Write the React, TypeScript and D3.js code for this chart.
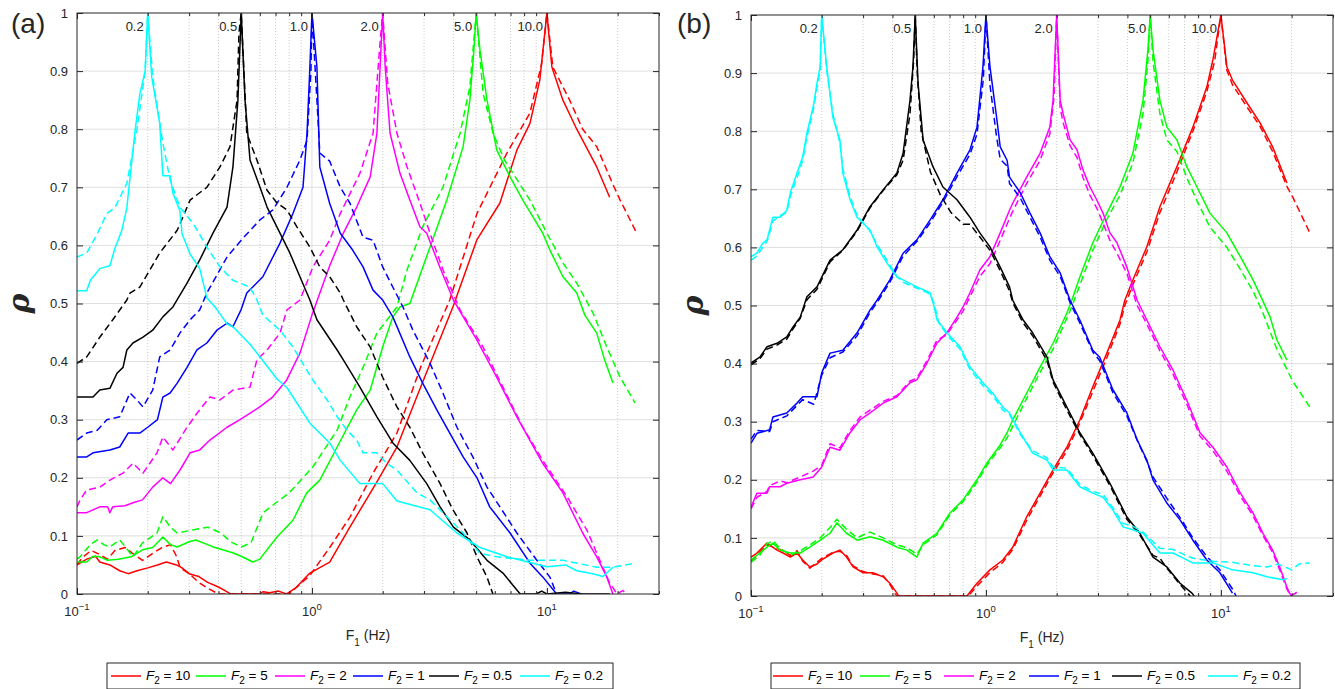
import React, { useEffect, useRef } from "react";
import * as d3 from "d3";

// ---- data: [F1 (Hz), rho] ----
const f2Labels = ["10", "5", "2", "1", "0.5", "0.2"];
const f2Colors = ["#ff0000", "#00ff00", "#ff00ff", "#0000ff", "#000000", "#00ffff"];
const peakFreqs = [0.2, 0.5, 1, 2, 5, 10];
const peakLabels = ["0.2", "0.5", "1.0", "2.0", "5.0", "10.0"];
const yTicks = [0, 0.1, 0.2, 0.3, 0.4, 0.5, 0.6, 0.7, 0.8, 0.9, 1];
const xMajor = [0.1, 1, 10];
const xMajorExp = ["\u22121", "0", "1"];

// panel (a)
const aRed = [[0.1,0.05],[0.11,0.06],[0.12,0.065],[0.125,0.055],[0.138,0.05],[0.152,0.04],[0.165,0.035],[0.18,0.04],[0.2,0.045],[0.22,0.05],[0.24,0.055],[0.265,0.05],[0.28,0.045],[0.3,0.035],[0.33,0.03],[0.36,0.02],[0.4,0.012],[0.43,0.005],[0.45,0],[0.6,0],[0.62,0.004],[0.66,0.002],[0.72,0.005],[0.78,0],[0.85,0.01],[0.98,0.036],[1.19,0.055],[1.45,0.115],[1.89,0.193],[2.3,0.253],[2.9,0.356],[3.98,0.494],[5.04,0.61],[6.31,0.673],[7.45,0.764],[8.47,0.81],[9.33,0.885],[10,1.0],[10.5,0.907],[11.7,0.85],[13.4,0.8],[16.3,0.735],[18.5,0.683]];
const aRedD = [[0.1,0.05],[0.105,0.062],[0.115,0.075],[0.125,0.068],[0.135,0.06],[0.145,0.075],[0.16,0.08],[0.175,0.068],[0.19,0.058],[0.21,0.07],[0.23,0.08],[0.25,0.085],[0.265,0.065],[0.275,0.045],[0.3,0.035],[0.33,0.02],[0.36,0.01],[0.4,0],[0.8,0],[0.83,0.006],[0.98,0.032],[1.19,0.08],[1.45,0.132],[1.82,0.208],[2.3,0.277],[2.9,0.39],[3.86,0.506],[5.04,0.655],[6.76,0.759],[8.47,0.828],[9.5,0.913],[10,1.0],[10.6,0.907],[12.5,0.85],[14.2,0.8],[16.3,0.77],[19,0.707],[20.5,0.678],[24.2,0.62]];
const aGreen = [[0.1,0.055],[0.11,0.055],[0.117,0.065],[0.125,0.064],[0.135,0.058],[0.15,0.06],[0.17,0.064],[0.19,0.076],[0.21,0.08],[0.232,0.098],[0.25,0.085],[0.267,0.081],[0.3,0.09],[0.32,0.093],[0.36,0.085],[0.38,0.081],[0.46,0.071],[0.5,0.065],[0.56,0.055],[0.6,0.06],[0.71,0.098],[0.83,0.127],[0.95,0.174],[1.08,0.196],[1.28,0.253],[1.55,0.317],[1.77,0.351],[2.0,0.425],[2.21,0.477],[2.37,0.494],[2.61,0.5],[3.18,0.597],[3.75,0.678],[4.4,0.77],[4.7,0.85],[4.89,0.936],[5,1.0],[5.19,0.936],[5.56,0.85],[6.12,0.764],[6.97,0.718],[7.9,0.678],[9.6,0.621],[10.3,0.592],[11.7,0.546],[13.4,0.518],[14.5,0.48],[16.3,0.449],[17.6,0.403],[19.1,0.363]];
const aGreenD = [[0.1,0.06],[0.103,0.064],[0.114,0.085],[0.122,0.093],[0.13,0.085],[0.138,0.081],[0.152,0.093],[0.165,0.075],[0.173,0.064],[0.19,0.088],[0.219,0.105],[0.232,0.133],[0.25,0.115],[0.267,0.105],[0.31,0.11],[0.36,0.115],[0.41,0.105],[0.45,0.09],[0.5,0.081],[0.55,0.088],[0.62,0.14],[0.73,0.162],[0.8,0.174],[1.01,0.219],[1.28,0.282],[1.45,0.339],[1.65,0.39],[1.89,0.449],[2.3,0.494],[2.54,0.558],[2.96,0.632],[3.61,0.7],[4.27,0.793],[4.7,0.873],[5,1.0],[5.35,0.862],[5.9,0.793],[6.6,0.747],[8.47,0.678],[10,0.621],[11.7,0.57],[13.4,0.535],[15.7,0.484],[18,0.425],[20.5,0.373],[23.7,0.329]];
const aMagenta = [[0.1,0.14],[0.11,0.14],[0.125,0.15],[0.135,0.15],[0.138,0.14],[0.142,0.15],[0.16,0.152],[0.173,0.157],[0.19,0.162],[0.21,0.184],[0.232,0.2],[0.25,0.19],[0.274,0.213],[0.303,0.243],[0.333,0.248],[0.368,0.265],[0.435,0.287],[0.494,0.3],[0.6,0.322],[0.68,0.339],[0.78,0.368],[0.89,0.415],[1.0,0.48],[1.19,0.565],[1.36,0.621],[1.55,0.666],[1.77,0.718],[1.89,0.793],[1.95,0.907],[2,1.0],[2.05,0.907],[2.15,0.793],[2.37,0.724],[2.61,0.678],[2.88,0.632],[3.08,0.621],[3.5,0.563],[4.0,0.506],[5.04,0.437],[6.12,0.373],[7.45,0.305],[9.6,0.225],[11.7,0.174],[14.2,0.105],[16.3,0.064],[18,0.029],[19.1,0]];
const aMagentaD = [[0.1,0.15],[0.103,0.162],[0.11,0.179],[0.125,0.184],[0.138,0.196],[0.157,0.208],[0.173,0.225],[0.191,0.208],[0.219,0.243],[0.232,0.27],[0.256,0.248],[0.294,0.287],[0.324,0.311],[0.368,0.339],[0.406,0.334],[0.461,0.351],[0.545,0.356],[0.583,0.403],[0.644,0.42],[0.731,0.449],[0.783,0.489],[0.889,0.506],[1.01,0.563],[1.19,0.609],[1.32,0.655],[1.6,0.724],[1.82,0.793],[1.95,0.95],[2,1.0],[2.1,0.88],[2.3,0.793],[2.54,0.735],[2.88,0.673],[3.18,0.621],[3.61,0.558],[4.27,0.489],[5.35,0.425],[6.5,0.356],[7.9,0.287],[9.6,0.23],[12.2,0.167],[14.8,0.11],[17.3,0.046],[18.5,0.019],[19.9,0],[21,0.006],[22,0]];
const aBlue = [[0.1,0.236],[0.11,0.236],[0.117,0.243],[0.138,0.248],[0.152,0.253],[0.165,0.277],[0.185,0.277],[0.2,0.287],[0.22,0.3],[0.232,0.339],[0.249,0.346],[0.267,0.363],[0.294,0.39],[0.324,0.42],[0.357,0.432],[0.394,0.454],[0.435,0.466],[0.461,0.46],[0.5,0.49],[0.528,0.518],[0.618,0.546],[0.731,0.604],[0.83,0.655],[0.916,0.7],[0.953,0.793],[0.98,0.907],[1,1],[1.05,0.907],[1.08,0.735],[1.19,0.672],[1.32,0.621],[1.49,0.592],[1.65,0.563],[1.82,0.523],[2,0.506],[2.21,0.477],[2.61,0.408],[2.96,0.363],[3.4,0.317],[3.86,0.277],[4.4,0.236],[5.04,0.2],[5.71,0.15],[6.97,0.105],[8.47,0.053],[9.62,0.029],[11,0],[12.5,0],[13,0.005],[14,0]];
const aBlueD = [[0.1,0.265],[0.11,0.277],[0.122,0.282],[0.134,0.3],[0.152,0.305],[0.168,0.346],[0.18,0.334],[0.191,0.322],[0.21,0.351],[0.225,0.408],[0.249,0.42],[0.274,0.449],[0.303,0.472],[0.333,0.489],[0.357,0.518],[0.435,0.58],[0.5,0.609],[0.601,0.644],[0.682,0.661],[0.783,0.7],[0.889,0.747],[0.953,0.781],[0.99,0.9],[1,1],[1.05,0.85],[1.08,0.759],[1.19,0.745],[1.32,0.7],[1.45,0.673],[1.65,0.614],[1.82,0.609],[2,0.563],[2.21,0.528],[2.44,0.494],[2.69,0.454],[3.18,0.397],[3.61,0.346],[4.14,0.287],[4.84,0.236],[5.56,0.184],[6.31,0.15],[7.45,0.105],[9.06,0.058],[10.3,0.029],[11,0]];
const aBlack = [[0.1,0.339],[0.117,0.339],[0.125,0.351],[0.138,0.354],[0.148,0.38],[0.157,0.39],[0.163,0.42],[0.173,0.432],[0.191,0.442],[0.21,0.454],[0.232,0.477],[0.256,0.494],[0.294,0.535],[0.333,0.575],[0.379,0.621],[0.435,0.666],[0.461,0.735],[0.484,0.85],[0.5,1.0],[0.519,0.85],[0.545,0.747],[0.601,0.7],[0.644,0.666],[0.731,0.621],[0.805,0.587],[0.889,0.546],[0.98,0.506],[1.05,0.472],[1.28,0.42],[1.36,0.403],[1.6,0.356],[1.89,0.305],[2.21,0.26],[2.61,0.23],[3.08,0.19],[3.51,0.15],[4.0,0.115],[4.7,0.093],[5.56,0.058],[6.5,0.036],[7.45,0.007],[7.7,0],[9,0],[9.5,0.005],[10,0],[12,0.003],[14,0],[18.5,0]];
const aBlackD = [[0.1,0.397],[0.11,0.408],[0.125,0.442],[0.142,0.472],[0.163,0.506],[0.168,0.518],[0.185,0.528],[0.225,0.587],[0.267,0.626],[0.303,0.678],[0.357,0.7],[0.406,0.735],[0.448,0.77],[0.48,0.85],[0.489,0.966],[0.5,1.0],[0.528,0.793],[0.583,0.747],[0.644,0.695],[0.71,0.673],[0.783,0.661],[0.863,0.632],[0.98,0.597],[1.08,0.563],[1.19,0.546],[1.32,0.518],[1.36,0.506],[1.55,0.46],[1.77,0.425],[2,0.373],[2.3,0.322],[2.61,0.287],[2.96,0.243],[3.51,0.19],[3.98,0.145],[4.57,0.105],[5.04,0.064],[5.56,0.029],[5.89,0]];
const aCyan = [[0.1,0.522],[0.11,0.522],[0.114,0.54],[0.125,0.56],[0.138,0.565],[0.145,0.595],[0.155,0.625],[0.163,0.665],[0.17,0.735],[0.177,0.8],[0.185,0.86],[0.195,0.9],[0.2,1.0],[0.208,0.89],[0.225,0.81],[0.232,0.72],[0.249,0.72],[0.256,0.69],[0.274,0.66],[0.28,0.62],[0.303,0.585],[0.333,0.56],[0.357,0.51],[0.394,0.49],[0.435,0.465],[0.461,0.46],[0.545,0.43],[0.71,0.37],[0.783,0.355],[0.98,0.294],[1.19,0.26],[1.32,0.23],[1.6,0.19],[2,0.19],[2.3,0.16],[3.18,0.145],[4.14,0.105],[5.19,0.08],[6.76,0.064],[10,0.047],[12,0.05],[13.4,0.04],[15.7,0.035],[17.3,0.03],[19.1,0.046]];
const aCyanD = [[0.1,0.58],[0.11,0.587],[0.122,0.62],[0.134,0.655],[0.145,0.665],[0.163,0.707],[0.18,0.8],[0.195,0.9],[0.2,1.0],[0.21,0.89],[0.232,0.776],[0.249,0.713],[0.274,0.666],[0.312,0.638],[0.357,0.597],[0.406,0.563],[0.461,0.54],[0.545,0.528],[0.583,0.506],[0.618,0.48],[0.731,0.454],[0.83,0.425],[1.01,0.368],[1.16,0.334],[1.28,0.305],[1.41,0.282],[1.55,0.265],[1.65,0.243],[1.89,0.243],[2.08,0.225],[2.3,0.213],[2.8,0.174],[3.18,0.162],[3.75,0.133],[4.4,0.105],[5.19,0.07],[6.12,0.064],[8.47,0.058],[11.7,0.058],[16.3,0.046],[19.1,0.046],[23.7,0.053]];

// panel (b)
const bRed = [[0.1,0.067],[0.106,0.074],[0.117,0.091],[0.129,0.079],[0.137,0.074],[0.147,0.067],[0.157,0.074],[0.166,0.062],[0.178,0.05],[0.191,0.055],[0.2,0.062],[0.223,0.074],[0.239,0.079],[0.255,0.067],[0.272,0.05],[0.3,0.04],[0.33,0.04],[0.365,0.033],[0.39,0.022],[0.418,0.005],[0.425,0],[0.83,0],[0.916,0.022],[1.04,0.045],[1.18,0.062],[1.3,0.084],[1.49,0.136],[1.7,0.177],[1.93,0.217],[2.21,0.256],[2.51,0.303],[2.85,0.36],[3.27,0.418],[3.72,0.475],[3.9,0.509],[4.22,0.544],[4.84,0.601],[5.5,0.67],[6.5,0.739],[7.6,0.807],[8.71,0.876],[9.25,0.923],[10,1.0],[10.6,0.911],[11.2,0.888],[12.9,0.849],[14.7,0.814],[16.6,0.773],[19.1,0.711]];
const bRedD = [[0.1,0.06],[0.106,0.07],[0.117,0.088],[0.129,0.082],[0.137,0.078],[0.147,0.07],[0.157,0.078],[0.166,0.06],[0.178,0.048],[0.191,0.058],[0.2,0.065],[0.223,0.075],[0.239,0.077],[0.255,0.07],[0.272,0.052],[0.3,0.042],[0.33,0.038],[0.365,0.035],[0.39,0.02],[0.41,0.004],[0.42,0],[0.84,0],[0.93,0.02],[1.04,0.04],[1.18,0.058],[1.3,0.08],[1.49,0.13],[1.7,0.172],[1.93,0.212],[2.21,0.25],[2.51,0.298],[2.85,0.352],[3.27,0.41],[3.72,0.468],[3.9,0.5],[4.22,0.536],[4.84,0.592],[5.5,0.66],[6.5,0.73],[7.6,0.8],[8.71,0.868],[9.4,0.92],[10,1.0],[10.6,0.905],[11.2,0.88],[12.9,0.842],[14.7,0.808],[16.6,0.765],[19.1,0.705],[20.2,0.687],[23.9,0.625]];
const bGreen = [[0.1,0.062],[0.109,0.074],[0.117,0.084],[0.124,0.091],[0.133,0.079],[0.147,0.074],[0.162,0.074],[0.178,0.084],[0.197,0.096],[0.217,0.108],[0.232,0.126],[0.255,0.108],[0.283,0.096],[0.321,0.102],[0.365,0.096],[0.418,0.084],[0.461,0.079],[0.508,0.067],[0.54,0.091],[0.618,0.108],[0.703,0.143],[0.798,0.165],[0.916,0.2],[1.01,0.229],[1.15,0.26],[1.23,0.281],[1.3,0.303],[1.49,0.349],[1.7,0.394],[1.93,0.435],[2.21,0.487],[2.32,0.509],[2.51,0.549],[2.85,0.608],[3.27,0.659],[3.72,0.704],[4.22,0.762],[4.66,0.853],[4.89,0.94],[5,1.0],[5.14,0.94],[5.5,0.853],[5.89,0.807],[6.5,0.785],[7.16,0.739],[7.91,0.704],[8.98,0.659],[10.6,0.625],[12.1,0.584],[13.7,0.544],[15,0.51],[16.2,0.48],[17.3,0.441],[19.1,0.406]];
const bGreenD = [[0.1,0.058],[0.109,0.07],[0.117,0.09],[0.124,0.095],[0.133,0.082],[0.147,0.07],[0.162,0.078],[0.178,0.088],[0.197,0.1],[0.217,0.118],[0.232,0.132],[0.255,0.115],[0.283,0.1],[0.3,0.105],[0.321,0.11],[0.365,0.1],[0.418,0.088],[0.461,0.083],[0.508,0.072],[0.54,0.088],[0.618,0.105],[0.703,0.14],[0.798,0.162],[0.916,0.196],[1.01,0.225],[1.15,0.255],[1.23,0.272],[1.3,0.292],[1.49,0.34],[1.7,0.385],[1.93,0.425],[2.21,0.478],[2.32,0.498],[2.51,0.535],[2.85,0.595],[3.27,0.648],[3.72,0.69],[4.22,0.745],[4.66,0.83],[4.89,0.92],[5,1.0],[5.14,0.92],[5.5,0.83],[5.89,0.785],[6.5,0.765],[7.16,0.72],[7.91,0.68],[8.98,0.635],[10.6,0.6],[12.1,0.562],[13.7,0.525],[15,0.49],[16.2,0.455],[17.3,0.425],[19.1,0.39],[20.2,0.37],[23.9,0.325]];
const bMagenta = [[0.1,0.153],[0.106,0.177],[0.117,0.177],[0.12,0.188],[0.133,0.188],[0.142,0.194],[0.162,0.2],[0.184,0.205],[0.2,0.222],[0.217,0.256],[0.239,0.251],[0.264,0.281],[0.291,0.303],[0.321,0.315],[0.365,0.332],[0.418,0.343],[0.475,0.367],[0.508,0.372],[0.561,0.401],[0.618,0.435],[0.682,0.453],[0.753,0.48],[0.798,0.497],[0.855,0.522],[0.942,0.561],[1.04,0.584],[1.15,0.625],[1.26,0.664],[1.3,0.676],[1.49,0.721],[1.7,0.762],[1.87,0.807],[1.93,0.853],[2,1.0],[2.07,0.853],[2.13,0.83],[2.28,0.785],[2.44,0.768],[2.59,0.733],[2.77,0.704],[2.96,0.682],[3.15,0.659],[3.37,0.625],[3.61,0.608],[3.98,0.566],[4.4,0.509],[4.84,0.475],[5.5,0.429],[6.25,0.389],[7.16,0.337],[8.15,0.281],[9.25,0.256],[10.6,0.222],[12.1,0.177],[13.7,0.143],[15.1,0.108],[16.6,0.079],[17.8,0.05],[19.1,0.015],[19.6,0.005],[20,0]];
const bMagentaD = [[0.1,0.15],[0.106,0.17],[0.117,0.18],[0.12,0.19],[0.133,0.198],[0.142,0.195],[0.162,0.205],[0.184,0.215],[0.2,0.225],[0.217,0.262],[0.239,0.255],[0.264,0.285],[0.291,0.308],[0.321,0.32],[0.365,0.335],[0.418,0.345],[0.475,0.37],[0.508,0.375],[0.561,0.405],[0.618,0.44],[0.682,0.45],[0.753,0.475],[0.798,0.49],[0.855,0.515],[0.942,0.55],[1.04,0.572],[1.15,0.612],[1.26,0.65],[1.3,0.662],[1.49,0.71],[1.7,0.75],[1.87,0.795],[1.95,0.86],[2,1.0],[2.07,0.84],[2.13,0.815],[2.28,0.775],[2.44,0.755],[2.59,0.72],[2.77,0.69],[2.96,0.668],[3.15,0.642],[3.37,0.612],[3.61,0.59],[3.98,0.555],[4.4,0.5],[4.84,0.468],[5.5,0.422],[6.25,0.382],[7.16,0.33],[8.15,0.275],[9.25,0.25],[10.6,0.215],[12.1,0.172],[13.7,0.138],[15.1,0.104],[16.6,0.075],[17.8,0.045],[19.1,0.012],[19.8,0],[21,0.006],[21.5,0]];
const bBlue = [[0.1,0.263],[0.106,0.28],[0.12,0.286],[0.124,0.308],[0.142,0.315],[0.157,0.332],[0.166,0.343],[0.191,0.343],[0.2,0.384],[0.217,0.418],[0.246,0.423],[0.283,0.453],[0.321,0.492],[0.344,0.509],[0.39,0.544],[0.444,0.59],[0.508,0.613],[0.578,0.647],[0.656,0.682],[0.753,0.728],[0.855,0.768],[0.916,0.807],[0.971,0.911],[1,1],[1.04,0.911],[1.11,0.824],[1.15,0.773],[1.23,0.75],[1.26,0.721],[1.4,0.694],[1.54,0.659],[1.7,0.625],[1.87,0.584],[2.07,0.556],[2.28,0.509],[2.51,0.475],[2.85,0.423],[3.05,0.411],[3.47,0.355],[3.98,0.315],[4.4,0.269],[4.84,0.234],[5.14,0.2],[5.89,0.16],[6.7,0.131],[7.6,0.096],[8.71,0.062],[9.9,0.04],[11.2,0.005]];
const bBlueD = [[0.1,0.27],[0.106,0.285],[0.12,0.283],[0.124,0.3],[0.142,0.31],[0.157,0.328],[0.166,0.338],[0.185,0.33],[0.2,0.38],[0.217,0.41],[0.246,0.42],[0.283,0.448],[0.321,0.488],[0.344,0.505],[0.39,0.54],[0.444,0.585],[0.508,0.61],[0.578,0.642],[0.656,0.678],[0.753,0.722],[0.855,0.76],[0.916,0.795],[0.975,0.89],[1,1],[1.04,0.88],[1.11,0.79],[1.15,0.752],[1.23,0.74],[1.26,0.71],[1.4,0.685],[1.54,0.652],[1.7,0.618],[1.87,0.578],[2.07,0.55],[2.28,0.505],[2.51,0.47],[2.85,0.42],[3.05,0.405],[3.47,0.35],[3.98,0.31],[4.4,0.268],[4.84,0.232],[5.14,0.205],[5.89,0.168],[6.7,0.135],[7.6,0.1],[8.71,0.068],[9.9,0.045],[11.2,0.012],[11.6,0]];
const bBlack = [[0.1,0.401],[0.109,0.411],[0.117,0.429],[0.129,0.435],[0.142,0.446],[0.151,0.463],[0.162,0.48],[0.173,0.515],[0.191,0.532],[0.217,0.578],[0.246,0.596],[0.283,0.63],[0.321,0.67],[0.365,0.699],[0.418,0.728],[0.444,0.762],[0.475,0.853],[0.489,0.911],[0.5,1.0],[0.514,0.883],[0.54,0.785],[0.595,0.739],[0.656,0.704],[0.753,0.682],[0.855,0.652],[0.942,0.625],[1.04,0.601],[1.15,0.566],[1.26,0.532],[1.3,0.509],[1.44,0.475],[1.58,0.453],[1.82,0.411],[1.93,0.372],[2.21,0.325],[2.51,0.281],[2.85,0.246],[3.37,0.194],[3.98,0.136],[4.52,0.108],[5.14,0.067],[5.89,0.05],[6.7,0.022],[7.53,0.005],[7.7,0]];
const bBlackD = [[0.1,0.398],[0.109,0.408],[0.117,0.425],[0.129,0.432],[0.142,0.442],[0.151,0.46],[0.162,0.478],[0.173,0.51],[0.191,0.528],[0.217,0.575],[0.246,0.595],[0.283,0.628],[0.321,0.668],[0.365,0.698],[0.418,0.725],[0.444,0.75],[0.475,0.83],[0.492,0.92],[0.5,1.0],[0.51,0.9],[0.53,0.8],[0.58,0.73],[0.64,0.69],[0.71,0.66],[0.8,0.64],[0.855,0.64],[0.942,0.618],[1.04,0.595],[1.15,0.56],[1.26,0.525],[1.3,0.505],[1.44,0.47],[1.58,0.448],[1.82,0.405],[1.93,0.368],[2.21,0.32],[2.51,0.278],[2.85,0.242],[3.37,0.19],[3.98,0.132],[4.52,0.105],[5.14,0.07],[5.5,0.065],[5.89,0.048],[6.7,0.02],[7.4,0]];
const bCyan = [[0.1,0.584],[0.106,0.59],[0.112,0.607],[0.117,0.613],[0.12,0.63],[0.124,0.652],[0.133,0.652],[0.142,0.664],[0.147,0.694],[0.157,0.728],[0.166,0.756],[0.173,0.797],[0.184,0.842],[0.191,0.883],[0.197,0.911],[0.2,1.0],[0.21,0.911],[0.223,0.824],[0.239,0.785],[0.246,0.728],[0.264,0.682],[0.283,0.652],[0.321,0.63],[0.344,0.601],[0.379,0.573],[0.418,0.549],[0.444,0.544],[0.508,0.532],[0.578,0.522],[0.6,0.5],[0.62,0.475],[0.682,0.453],[0.775,0.429],[0.855,0.394],[0.971,0.367],[1.07,0.349],[1.18,0.325],[1.26,0.315],[1.4,0.281],[1.58,0.246],[1.82,0.234],[1.93,0.217],[2.21,0.217],[2.51,0.188],[2.85,0.177],[3.15,0.17],[3.47,0.148],[3.83,0.119],[4.22,0.114],[4.66,0.108],[5.5,0.074],[6.25,0.074],[7.6,0.057],[9.25,0.057],[11.2,0.045],[13.7,0.04],[15.7,0.033],[18.4,0.028],[19.1,0.03]];
const bCyanD = [[0.1,0.578],[0.106,0.585],[0.112,0.6],[0.117,0.61],[0.12,0.625],[0.124,0.645],[0.133,0.655],[0.142,0.66],[0.147,0.688],[0.157,0.72],[0.166,0.75],[0.173,0.79],[0.184,0.835],[0.191,0.875],[0.197,0.905],[0.2,1.0],[0.21,0.905],[0.223,0.83],[0.239,0.78],[0.246,0.735],[0.264,0.688],[0.283,0.655],[0.321,0.628],[0.344,0.605],[0.379,0.578],[0.418,0.55],[0.444,0.54],[0.508,0.53],[0.578,0.52],[0.6,0.505],[0.63,0.47],[0.682,0.45],[0.775,0.425],[0.855,0.39],[0.971,0.362],[1.07,0.345],[1.18,0.32],[1.26,0.312],[1.4,0.278],[1.58,0.25],[1.82,0.238],[1.93,0.222],[2.21,0.22],[2.51,0.192],[2.85,0.18],[3.15,0.175],[3.47,0.152],[3.83,0.125],[4.22,0.12],[4.66,0.11],[5.5,0.082],[6.25,0.08],[7.6,0.065],[9.25,0.06],[11.2,0.058],[13.7,0.052],[15.7,0.05],[17.5,0.055],[20,0.045],[21.5,0.055],[23.9,0.057]];

const aSolid = [aRed, aGreen, aMagenta, aBlue, aBlack, aCyan];
const aDashed = [aRedD, aGreenD, aMagentaD, aBlueD, aBlackD, aCyanD];
const bSolid = [bRed, bGreen, bMagenta, bBlue, bBlack, bCyan];
const bDashed = [bRedD, bGreenD, bMagentaD, bBlueD, bBlackD, bCyanD];

// ---- layout ----
const FONT = "'Liberation Sans', Arial, Helvetica, sans-serif";
const INK = "#262626";

const panels = [
  {
    tag: "(a)", tagX: 11, left: 77, right: 659, top: 13, bottom: 594,
    solid: aSolid, dashed: aDashed,
    legend: { x0: 107, x1: 613, items: [111, 196, 275, 353, 429, 520] },
  },
  {
    tag: "(b)", tagX: 677, left: 751, right: 1333, top: 15, bottom: 596,
    solid: bSolid, dashed: bDashed,
    legend: { x0: 771, x1: 1300, items: [773, 860, 944, 1029, 1112, 1208] },
  },
];

const drawPanel = (svg, p, idx) => {
  const x = d3.scaleLog().domain([0.1, 30]).range([p.left, p.right]);
  const y = d3.scaleLinear().domain([0, 1]).range([p.bottom, p.top]);
  const allX = x.ticks();
  const minorX = allX.filter((v) => !xMajor.some((m) => Math.abs(m - v) < 1e-9));
  const g = svg.append("g");

  // grid
  g.append("g")
    .selectAll("line")
    .data(yTicks.slice(1, -1))
    .join("line")
    .attr("x1", p.left).attr("x2", p.right)
    .attr("y1", (d) => y(d)).attr("y2", (d) => y(d))
    .attr("stroke", "#dfdfdf").attr("stroke-width", 1);
  g.append("g")
    .selectAll("line")
    .data(minorX.filter((v) => v < 30))
    .join("line")
    .attr("x1", (d) => x(d)).attr("x2", (d) => x(d))
    .attr("y1", p.top).attr("y2", p.bottom)
    .attr("stroke", "#bdbdbd").attr("stroke-width", 0.8)
    .attr("stroke-dasharray", "1,2");
  g.append("g")
    .selectAll("line")
    .data(xMajor.slice(1))
    .join("line")
    .attr("x1", (d) => x(d)).attr("x2", (d) => x(d))
    .attr("y1", p.top).attr("y2", p.bottom)
    .attr("stroke", "#dfdfdf").attr("stroke-width", 1);

  // curves
  const clipId = "clip" + idx;
  svg.append("defs").append("clipPath").attr("id", clipId)
    .append("rect")
    .attr("x", p.left).attr("y", p.top)
    .attr("width", p.right - p.left).attr("height", p.bottom - p.top);
  const line = d3.line().x((d) => x(d[0])).y((d) => y(d[1]));
  const cg = g.append("g").attr("clip-path", `url(#${clipId})`);
  f2Colors.forEach((c, i) => {
    cg.append("path").attr("d", line(p.solid[i]))
      .attr("fill", "none").attr("stroke", c).attr("stroke-width", 1.5)
      .attr("stroke-linejoin", "round");
    cg.append("path").attr("d", line(p.dashed[i]))
      .attr("fill", "none").attr("stroke", c).attr("stroke-width", 1.5)
      .attr("stroke-dasharray", "7,4").attr("stroke-linejoin", "round");
  });

  // axes (ticks inward, MATLAB style)
  const styleAxis = (sel) => {
    sel.select(".domain").remove();
    sel.selectAll(".tick line").attr("stroke", INK);
    sel.selectAll("text").attr("fill", INK).attr("font-family", FONT).attr("font-size", 13);
  };
  g.append("g").attr("transform", `translate(${p.left},0)`)
    .call(d3.axisLeft(y).tickValues(yTicks).tickSize(-6).tickPadding(9)
      .tickFormat((d) => `${+(+d).toFixed(1)}`))
    .call(styleAxis);
  g.append("g").attr("transform", `translate(${p.right},0)`)
    .call(d3.axisRight(y).tickValues(yTicks).tickSize(-6).tickFormat(() => ""))
    .call(styleAxis);
  g.append("g").attr("transform", `translate(0,${p.bottom})`)
    .call(d3.axisBottom(x).tickValues(xMajor).tickSize(-6).tickFormat(() => ""))
    .call(styleAxis);
  g.append("g").attr("transform", `translate(0,${p.bottom})`)
    .call(d3.axisBottom(x).tickValues(minorX).tickSize(-3).tickFormat(() => ""))
    .call(styleAxis);
  g.append("g").attr("transform", `translate(0,${p.top})`)
    .call(d3.axisTop(x).tickValues(xMajor).tickSize(-6).tickFormat(() => ""))
    .call(styleAxis);
  g.append("g").attr("transform", `translate(0,${p.top})`)
    .call(d3.axisTop(x).tickValues(minorX).tickSize(-3).tickFormat(() => ""))
    .call(styleAxis);

  g.append("rect")
    .attr("x", p.left).attr("y", p.top)
    .attr("width", p.right - p.left).attr("height", p.bottom - p.top)
    .attr("fill", "none").attr("stroke", INK).attr("stroke-width", 1);

  // x tick labels 10^n
  xMajor.forEach((v, i) => {
    const t = g.append("text")
      .attr("x", x(v)).attr("y", p.bottom + 22)
      .attr("text-anchor", "middle")
      .attr("font-family", FONT).attr("font-size", 13).attr("fill", INK);
    t.append("tspan").text("10");
    t.append("tspan").attr("dy", -6).attr("font-size", 9.5).text(xMajorExp[i]);
  });

  // x label
  const xl = g.append("text")
    .attr("x", (p.left + p.right) / 2).attr("y", p.bottom + 46)
    .attr("text-anchor", "middle")
    .attr("font-family", FONT).attr("font-size", 14).attr("fill", INK);
  xl.append("tspan").text("F");
  xl.append("tspan").attr("dy", 6).attr("font-size", 10).text("1");
  xl.append("tspan").attr("dy", -6).text(" (Hz)");

  // y label
  g.append("text")
    .attr("transform", `translate(${p.left - 48},${(p.top + p.bottom) / 2}) rotate(-90)`)
    .attr("text-anchor", "middle")
    .attr("font-family", "'DejaVu Serif', 'Liberation Serif', serif")
    .attr("font-weight", "bold").attr("font-style", "italic")
    .attr("font-size", 30).attr("fill", INK)
    .text("\u03c1");

  // panel tag
  g.append("text")
    .attr("x", p.tagX).attr("y", 33)
    .attr("font-family", FONT).attr("font-size", 28).attr("fill", INK)
    .text(p.tag);

  // peak labels
  peakFreqs.forEach((f, i) => {
    g.append("text")
      .attr("x", x(f) - 4).attr("y", p.top + 18)
      .attr("text-anchor", "end")
      .attr("font-family", FONT).attr("font-size", 13).attr("fill", INK)
      .text(peakLabels[i]);
  });

  // legend
  const lg = g.append("g");
  const lTop = 663, lBot = 689, lMid = 676;
  lg.append("rect")
    .attr("x", p.legend.x0).attr("y", lTop)
    .attr("width", p.legend.x1 - p.legend.x0).attr("height", lBot - lTop)
    .attr("fill", "#fff").attr("stroke", INK).attr("stroke-width", 1);
  p.legend.items.forEach((lx, i) => {
    lg.append("line")
      .attr("x1", lx).attr("x2", lx + 30).attr("y1", lMid).attr("y2", lMid)
      .attr("stroke", f2Colors[i]).attr("stroke-width", 1.5);
    const t = lg.append("text")
      .attr("x", lx + 35).attr("y", lMid + 4)
      .attr("font-family", FONT).attr("font-size", 13.5).attr("fill", "#000");
    t.append("tspan").attr("font-style", "italic").text("F");
    t.append("tspan").attr("dy", 4).attr("font-size", 10).text("2");
    t.append("tspan").attr("dy", -4).text(` = ${f2Labels[i]}`);
  });
};

const App = () => {
  const ref = useRef(null);

  useEffect(() => {
    const svg = d3.select(ref.current);
    svg.selectAll("*").remove();
    panels.forEach((p, i) => drawPanel(svg, p, i));
  }, []);

  return (
    <svg
      ref={ref}
      width={1335}
      height={689}
      style={{ position: "absolute", left: 0, top: 0, background: "#fff" }}
    />
  );
};

export default App;
